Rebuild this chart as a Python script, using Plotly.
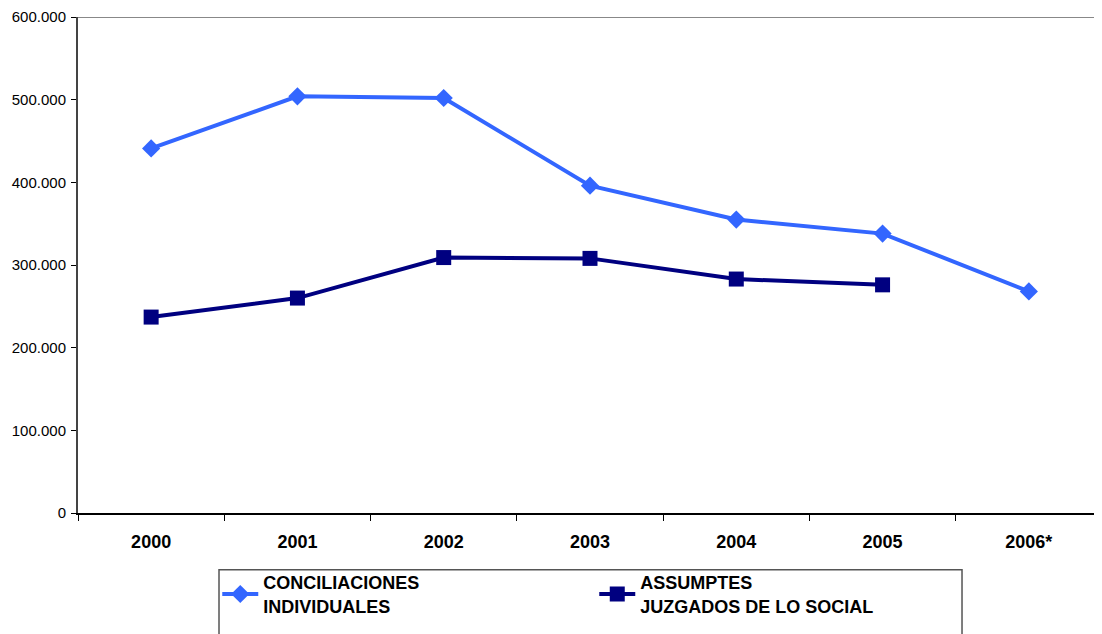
import plotly.graph_objects as go

years = ['2000', '2001', '2002', '2003', '2004', '2005', '2006*']
conciliaciones = [441000, 504000, 502000, 396000, 355000, 338000, 268000]
assumptes = [237000, 260000, 309000, 308000, 283000, 276000]
y_ticks = [0, 100000, 200000, 300000, 400000, 500000, 600000]
y_labels = ['0', '100.000', '200.000', '300.000', '400.000', '500.000', '600.000']

fig = go.Figure()
fig.add_trace(go.Scatter(
    x=years, y=conciliaciones, mode='lines+markers',
    name='CONCILIACIONES<br>INDIVIDUALES',
    line=dict(color='#3366ff', width=4),
    marker=dict(symbol='diamond', size=14, color='#3366ff'),
))
fig.add_trace(go.Scatter(
    x=years[:len(assumptes)], y=assumptes, mode='lines+markers',
    name='ASSUMPTES<br>JUZGADOS DE LO SOCIAL',
    line=dict(color='#000080', width=4),
    marker=dict(symbol='square', size=15, color='#000080'),
))

# gray top edge of the plot area
fig.add_shape(type='line', xref='paper', yref='y', x0=0, x1=1, y0=600000, y1=600000,
              line=dict(color='#888888', width=2))
# legend frame
fig.add_shape(type='rect', xref='paper', yref='paper', x0=0.1377, x1=0.8633,
              y0=-0.30, y1=-0.1145, line=dict(color='#555555', width=1.5))

# page body adds an 8px offset, so margins are shifted accordingly
fig.update_layout(
    width=1102, height=634,
    margin=dict(l=70, r=8, t=9, b=129, autoexpand=False),
    plot_bgcolor='white', paper_bgcolor='white',
    font=dict(family='Liberation Sans, Arial', color='black'),
    showlegend=True,
    legend=dict(
        orientation='h', x=0.136, y=-0.103, xanchor='left', yanchor='top',
        entrywidth=326, font=dict(size=18, family='Liberation Sans, Arial', weight='bold'),
        itemwidth=36, bgcolor='rgba(0,0,0,0)', tracegroupgap=0,
    ),
    xaxis=dict(
        type='category', range=[-0.5, 6.5], tickson='boundaries',
        ticks='outside', ticklen=6, tickcolor='black', tickwidth=1,
        showline=True, linecolor='black', linewidth=2, showgrid=False,
        tickfont=dict(size=18, weight='bold'), ticklabelstandoff=11,
    ),
    yaxis=dict(
        range=[0, 600000], tickvals=y_ticks, ticktext=y_labels,
        ticks='outside', ticklen=5, tickcolor='black', tickwidth=1,
        showline=True, linecolor='#444444', linewidth=2, showgrid=False,
        tickfont=dict(size=15), zeroline=False, ticklabelstandoff=2,
        ticklabeloverflow='allow',
    ),
)

fig.write_html('out.html')
